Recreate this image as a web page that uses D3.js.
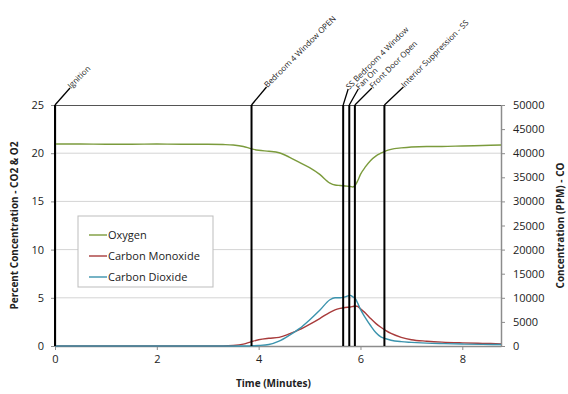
<!DOCTYPE html>
<html>
<head>
<meta charset="utf-8">
<script src="https://cdn.jsdelivr.net/npm/d3@7"></script>
<style>
  body { margin: 0; background: #fff; }
  text { font-family: "Open Sans", sans-serif; fill: #222; }
</style>
</head>
<body>
<div id="chart"></div>
<script>
// time in minutes, shared by the three series
const time = [0, 0.5, 1, 1.5, 2, 2.5, 3, 3.3, 3.5, 3.7, 3.86, 4.0, 4.2, 4.4, 4.6, 4.8, 5.0, 5.2, 5.4, 5.5,
  5.6, 5.7, 5.8, 5.85, 5.9, 5.95, 6.0, 6.1, 6.2, 6.3, 6.4, 6.5, 6.6, 6.8, 7.0, 7.3, 7.6, 8.0, 8.4, 8.76];
// percent
const oxygen = [20.95, 20.95, 20.93, 20.93, 20.95, 20.93, 20.93, 20.9, 20.85, 20.7, 20.45, 20.3, 20.2, 20.05, 19.6, 19.05, 18.5, 17.8, 16.9, 16.7,
  16.65, 16.6, 16.55, 16.5, 16.7, 17.2, 17.8, 18.6, 19.25, 19.7, 20.0, 20.25, 20.4, 20.55, 20.65, 20.7, 20.7, 20.75, 20.8, 20.85];
// ppm (right axis)
const carbonMonoxide = [0, 0, 0, 0, 0, 0, 0, 0, 100, 400, 900, 1300, 1600, 1800, 2500, 3400, 4500, 5700, 7000, 7500,
  7800, 8000, 8100, 8200, 8300, 8200, 7700, 6800, 5700, 4700, 3900, 3200, 2600, 1800, 1300, 1000, 800, 650, 550, 450];
// percent
const carbonDioxide = [0, 0, 0, 0, 0, 0, 0, 0, 0, 0, 0.02, 0.05, 0.15, 0.5, 1.1, 1.8, 2.7, 3.7, 4.8, 5.0,
  5.0, 5.1, 5.25, 5.1, 4.9, 4.4, 3.8, 2.9, 2.1, 1.4, 0.95, 0.75, 0.6, 0.45, 0.38, 0.3, 0.25, 0.2, 0.17, 0.15];

const eventNames = ["Ignition", "Bedroom 4 Window OPEN", "SS Bedroom 4 Window", "Fan On", "Front Door Open", "Interior Suppression - SS"];
const eventTimes = [0, 3.86, 5.66, 5.78, 5.89, 6.47];

const xTicks = [0, 2, 4, 6, 8];
const leftTicks = [0, 5, 10, 15, 20, 25];
const rightTicks = [0, 5000, 10000, 15000, 20000, 25000, 30000, 35000, 40000, 45000, 50000];

const margin = {top: 105, right: 67, bottom: 48, left: 55};
const full_width = 568, full_height = 394;
const width = full_width - margin.left - margin.right;
const height = full_height - margin.top - margin.bottom;

const svg = d3.select('#chart').append('svg')
  .attr('width', full_width)
  .attr('height', full_height)
  .append('g')
  .attr('transform', 'translate(' + margin.left + ',' + margin.top + ')');

const x = d3.scaleLinear().domain([0, 8.76]).range([0, width]);
const y = d3.scaleLinear().domain([0, 25]).range([height, 0]);
const y2 = d3.scaleLinear().domain([0, 50000]).range([height, 0]);

// gridlines
svg.append('g').selectAll('line')
  .data(leftTicks.filter(d => d > 0 && d < 25))
  .enter().append('line')
  .attr('x1', 0).attr('x2', width)
  .attr('y1', d => y(d)).attr('y2', d => y(d))
  .attr('stroke', '#d4d4d4').attr('stroke-width', 1);

// frame top
svg.append('line').attr('x1', 0).attr('x2', width).attr('y1', 0.5).attr('y2', 0.5)
  .attr('stroke', '#555').attr('stroke-width', 1.2);

function styleAxis(g) {
  g.select('.domain').attr('stroke', '#8c8c8c').attr('stroke-width', 1.5);
  g.selectAll('.tick line').attr('stroke', '#8c8c8c');
  g.selectAll('.tick text').attr('fill', '#222').style('font-size', '11px').style('font-family', '"Open Sans", sans-serif');
}

svg.append('g').attr('transform', 'translate(0,' + height + ')')
  .call(d3.axisBottom(x).tickValues(xTicks).tickSizeInner(4).tickSizeOuter(0).tickPadding(5))
  .call(styleAxis);
svg.append('g')
  .call(d3.axisLeft(y).tickValues(leftTicks).tickSizeInner(4).tickSizeOuter(0).tickPadding(7))
  .call(styleAxis);
svg.append('g').attr('transform', 'translate(' + width + ',0)')
  .call(d3.axisRight(y2).tickValues(rightTicks).tickFormat(d3.format('d')).tickSizeInner(4).tickSizeOuter(0).tickPadding(8))
  .call(styleAxis);

// series
const series = [
  {name: 'Oxygen', values: oxygen, scale: y, color: '#7b9b3c'},
  {name: 'Carbon Monoxide', values: carbonMonoxide, scale: y2, color: '#a83b3b'},
  {name: 'Carbon Dioxide', values: carbonDioxide, scale: y, color: '#3b93ad'}
];

series.forEach(s => {
  const line = d3.line()
    .x((d, i) => x(time[i]))
    .y(d => s.scale(d))
    .curve(d3.curveMonotoneX);
  svg.append('path')
    .datum(s.values)
    .attr('fill', 'none')
    .attr('stroke', s.color)
    .attr('stroke-width', 1.4)
    .attr('d', line);
});

// events: vertical line, leader and rotated label
const leader = [[15, 17], [15, 18], [5, 16], [9, 16], [17, 17], [19, 18]];
const ev = svg.append('g');
eventTimes.forEach((t, i) => {
  const px = x(t);
  ev.append('line')
    .attr('x1', px).attr('x2', px).attr('y1', 0).attr('y2', height)
    .attr('stroke', '#000').attr('stroke-width', 2);
  const ex = px + leader[i][0], ey = -leader[i][1];
  ev.append('line')
    .attr('x1', px).attr('x2', ex).attr('y1', 0).attr('y2', ey)
    .attr('stroke', '#000').attr('stroke-width', 1.3);
  ev.append('text')
    .attr('transform', 'translate(' + (ex + 1) + ',' + (ey + 1) + ') rotate(-45)')
    .style('font-size', '8px')
    .text(eventNames[i]);
});

// axis titles
svg.append('text')
  .attr('transform', 'translate(' + (-37) + ',' + (height / 2) + ') rotate(-90)')
  .attr('text-anchor', 'middle')
  .style('font-size', '10px').style('font-weight', 'bold')
  .text('Percent Concentration - CO2 & O2');
svg.append('text')
  .attr('transform', 'translate(' + (width + 63) + ',' + (height / 2) + ') rotate(-90)')
  .attr('text-anchor', 'middle')
  .style('font-size', '10px').style('font-weight', 'bold')
  .text('Concentration (PPM) - CO');
svg.append('text')
  .attr('x', x(4.29)).attr('y', height + 41)
  .attr('text-anchor', 'middle')
  .style('font-size', '10px').style('font-weight', 'bold')
  .text('Time (Minutes)');

// legend
const legend = svg.append('g').attr('transform', 'translate(23,111)');
legend.append('rect')
  .attr('width', 135).attr('height', 71)
  .attr('fill', '#fff').attr('stroke', '#bdbdbd');
series.forEach((s, i) => {
  const ly = 19 + i * 21;
  legend.append('line')
    .attr('x1', 11).attr('x2', 29).attr('y1', ly).attr('y2', ly)
    .attr('stroke', s.color).attr('stroke-width', 1.4);
  legend.append('text')
    .attr('x', 30).attr('y', ly + 4)
    .style('font-size', '11px')
    .text(s.name);
});
</script>
</body>
</html>
